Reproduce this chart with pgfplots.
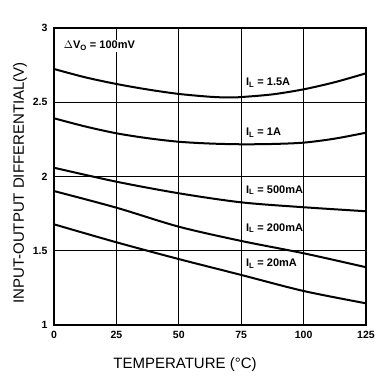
\documentclass[border=0pt]{standalone}
\usepackage{fontspec}
\setmainfont{Liberation Sans}
\usepackage{pgfplots}
\pgfplotsset{compat=1.18}
\begin{document}
\begin{tikzpicture}
\begin{axis}[
  scale only axis,
  width=312pt, height=297pt,
  xmin=0, xmax=125, ymin=1, ymax=3,
  xtick={0,25,50,75,100,125},
  ytick={1,1.5,2,2.5,3},
  grid=major,
  major grid style={black, line width=0.8pt},
  axis line style={black, line width=1.3pt},
  major tick length=0pt,
  /pgf/number format/assume math mode=true,
  ticklabel style={font=\fontsize{10.5}{11}\selectfont\bfseries},
  yticklabel style={xshift=-3pt},
  xticklabel style={yshift=-3pt},
  yticklabel style={/pgf/number format/fixed},
  clip=false,
]
\addplot[black, line width=2pt, smooth] coordinates {
(0,2.724) (12.5,2.668) (25,2.623) (37.5,2.586) (50,2.556) (62.5,2.537) (70,2.532) (75,2.535) (87.5,2.553) (100,2.587) (112.5,2.635) (125,2.695)};
\addplot[black, line width=2pt, smooth] coordinates {
(0,2.392) (12.5,2.337) (25,2.291) (37.5,2.258) (50,2.234) (62.5,2.222) (75,2.217) (87.5,2.219) (100,2.228) (112.5,2.255) (125,2.295)};
\addplot[black, line width=2pt, smooth] coordinates {
(0,2.059) (25,1.965) (50,1.887) (75,1.826) (100,1.793) (125,1.766)};
\addplot[black, line width=2pt, smooth] coordinates {
(0,1.902) (25,1.790) (50,1.662) (75,1.566) (100,1.483) (125,1.389)};
\addplot[black, line width=2pt, smooth] coordinates {
(0,1.678) (25,1.557) (50,1.444) (75,1.337) (100,1.229) (125,1.146)};
\node[anchor=west, font=\fontsize{11}{12}\selectfont\bfseries, fill=white, inner sep=1pt] at (axis cs:3.5,2.88) {$\Delta$V\textsubscript{O} = 100mV};
\node[anchor=west, font=\fontsize{11}{12}\selectfont\bfseries, inner sep=1pt] at (axis cs:76.5,2.63) {I\textsubscript{L} = 1.5A};
\node[anchor=west, font=\fontsize{11}{12}\selectfont\bfseries, inner sep=1pt] at (axis cs:76.5,2.293) {I\textsubscript{L} = 1A};
\node[anchor=west, font=\fontsize{11}{12}\selectfont\bfseries, inner sep=1pt] at (axis cs:76.5,1.909) {I\textsubscript{L} = 500mA};
\node[anchor=west, font=\fontsize{11}{12}\selectfont\bfseries, inner sep=1pt] at (axis cs:76.5,1.651) {I\textsubscript{L} = 200mA};
\node[anchor=west, font=\fontsize{11}{12}\selectfont\bfseries, inner sep=1pt] at (axis cs:76.5,1.411) {I\textsubscript{L} = 20mA};
\end{axis}
\node[rotate=90, font=\fontsize{15}{16}\selectfont] at (-34pt,142pt) {INPUT-OUTPUT DIFFERENTIAL(V)};
\node[font=\fontsize{15}{16}\selectfont] at (131pt,-40pt) {TEMPERATURE (°C)};
\pgfresetboundingbox
\useasboundingbox (-54pt,-55pt) rectangle (338pt,325pt);
\end{tikzpicture}
\end{document}
